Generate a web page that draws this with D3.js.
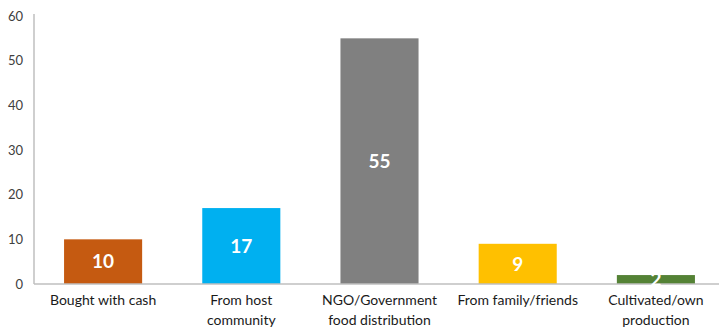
<!DOCTYPE html>
<html>
<head>
<meta charset="utf-8">
<script src="https://cdn.jsdelivr.net/npm/d3@7"></script>
<style>
  html, body { margin: 0; padding: 0; background: #fff; }
  svg { display: block; }
  text { font-family: Lato, "Open Sans", sans-serif; }
</style>
</head>
<body>
<svg id="chart" width="719" height="332"></svg>
<script>
// Food sources (%)
const categories = [
  ["Bought with cash"],
  ["From host", "community"],
  ["NGO/Government", "food distribution"],
  ["From family/friends"],
  ["Cultivated/own", "production"]
];
const values = [10, 17, 55, 9, 2];
const colors = ["#C55A11", "#00B0F0", "#808080", "#FFC000", "#548235"];
const yTicks = [0, 10, 20, 30, 40, 50, 60];

const svg = d3.select("#chart");
const plotLeft = 34, plotRight = 725, plotTop = 16, plotBottom = 284;

const x = d3.scaleBand()
  .domain(d3.range(categories.length))
  .range([plotLeft, plotRight])
  .paddingInner(0.435)
  .paddingOuter(0.2175);

const y = d3.scaleLinear().domain([0, 60]).range([plotBottom, plotTop]);

// y axis
const yAxis = svg.append("g")
  .attr("transform", `translate(${plotLeft},0)`)
  .call(d3.axisLeft(y).tickValues(yTicks).tickSize(0).tickPadding(10));
yAxis.select(".domain").attr("stroke", "#bfbfbf").attr("stroke-width", 1.5)
  .attr("d", `M0,${y(60) - 2}V${plotBottom}`);
yAxis.selectAll("text")
  .attr("fill", "#404040")
  .style("font-size", "13px")
  .style("font-family", "Lato, sans-serif")
  .attr("text-anchor", "end")
  .attr("x", -11);

// bars
svg.append("g").selectAll("rect")
  .data(values)
  .join("rect")
  .attr("x", (d, i) => x(i))
  .attr("width", x.bandwidth())
  .attr("y", d => y(d))
  .attr("height", d => plotBottom - y(d))
  .attr("fill", (d, i) => colors[i]);

// baseline
svg.append("line")
  .attr("x1", plotLeft).attr("x2", 719)
  .attr("y1", plotBottom).attr("y2", plotBottom)
  .attr("stroke", "#bfbfbf").attr("stroke-width", 1.5);

// value labels
svg.append("g").selectAll("text")
  .data(values)
  .join("text")
  .attr("x", (d, i) => x(i) + x.bandwidth() / 2)
  .attr("y", d => (y(d) + plotBottom) / 2)
  .attr("dy", "0.35em")
  .attr("text-anchor", "middle")
  .attr("fill", "#fff")
  .style("font-size", "19px")
  .style("font-weight", "bold")
  .text(d => d);

// category labels
const cat = svg.append("g").selectAll("text")
  .data(categories)
  .join("text")
  .attr("x", (d, i) => x(i) + x.bandwidth() / 2)
  .attr("y", 305)
  .attr("text-anchor", "middle")
  .attr("fill", "#1a1a1a")
  .style("font-size", "14px");
cat.selectAll("tspan")
  .data(d => d)
  .join("tspan")
  .attr("x", function () { return d3.select(this.parentNode).attr("x"); })
  .attr("dy", (d, i) => i === 0 ? 0 : 20)
  .text(d => d);
</script>
</body>
</html>
